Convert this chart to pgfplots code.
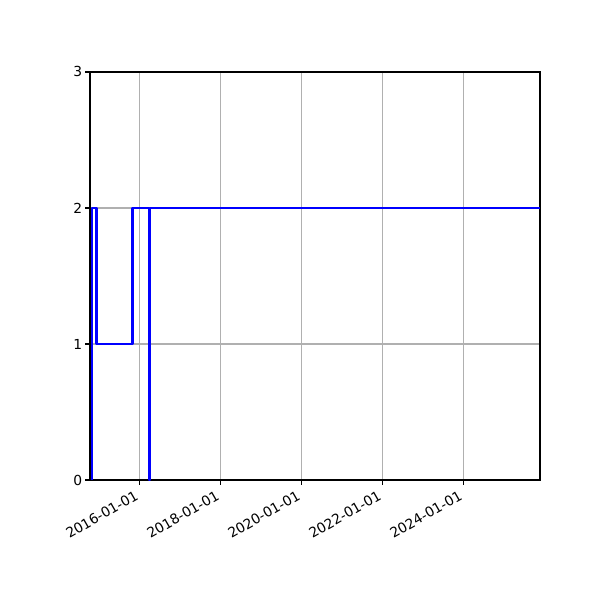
\documentclass[border=0pt]{standalone}
\usepackage{fontspec}
\setmainfont{DejaVu Sans}
\usepackage{pgfplots}
\pgfplotsset{compat=1.18}
\begin{document}
\begin{tikzpicture}
\useasboundingbox (0,0) rectangle (433.62pt,433.62pt);
\begin{axis}[
  at={(65.04pt,86.72pt)}, anchor=south west,
  scale only axis, width=325.2pt, height=294.9pt,
  xmin=2014.78, xmax=2025.89, ymin=0, ymax=3,
  xtick={2016,2018,2020,2022,2024},
  xticklabels={2016-01-01,2018-01-01,2020-01-01,2022-01-01,2024-01-01},
  ytick={0,1,2,3},
  grid=major,
  grid style={color=black!31, line width=0.8pt},
  axis line style={line width=0.8pt},
  tick style={black, line width=0.8pt},
  tick align=outside, major tick length=3.5pt,
  xtick pos=bottom, ytick pos=left,
  tick label style={font=\fontsize{10}{12}\selectfont},
  /pgf/number format/assume math mode=true,
  xticklabel style={rotate=30, anchor=north east, inner sep=2pt, xshift=-3pt, yshift=1pt},
  yticklabel style={inner sep=2pt},
  clip=true,
]
\addplot[blue, line width=1.5pt, line join=round, mark=none] coordinates {
 (2014.82,0) (2014.82,2) (2014.94,2) (2014.94,1) (2015.83,1) (2015.83,2)
 (2016.24,2) (2016.24,0) (2016.265,0) (2016.265,2) (2025.95,2)
};
\end{axis}
\end{tikzpicture}
\end{document}
